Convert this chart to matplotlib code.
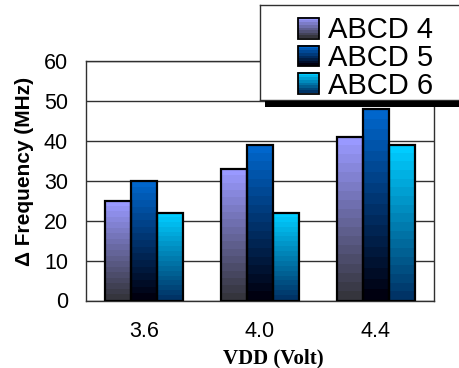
import numpy as np
import matplotlib
matplotlib.use("Agg")
import matplotlib.pyplot as plt
from matplotlib.colors import LinearSegmentedColormap
from matplotlib.patches import Rectangle

# data
voltages = ["3.6", "4.0", "4.4"]
series_names = ["ABCD 4", "ABCD 5", "ABCD 6"]
abcd4 = [25, 33, 41]
abcd5 = [30, 39, 48]
abcd6 = [22, 22, 39]

# gradient ends (bottom, top) for each series
grad_colors = [("#35353d", "#9999ff"), ("#000010", "#0066cc"), ("#003366", "#00ccff")]

W, H = 460, 368
fig = plt.figure(figsize=(W / 100, H / 100), dpi=100)
plt.rcParams["font.family"] = ["Liberation Sans", "DejaVu Sans"]


def fig_box(x0, y0, x1, y1):
    """pixel box (top-left origin) -> figure fraction [l, b, w, h]"""
    return [x0 / W, 1 - y1 / H, (x1 - x0) / W, (y1 - y0) / H]


def gradient_rect(ax, x0, x1, y0, y1, colors, steps=18, z=2):
    cmap = LinearSegmentedColormap.from_list("g", list(colors))
    g = np.linspace(0, 1, steps).reshape(-1, 1)
    ax.imshow(g, cmap=cmap, aspect="auto", origin="lower",
              extent=(x0, x1, y0, y1), interpolation="nearest", zorder=z)


ax = fig.add_axes(fig_box(86, 61, 434, 300.5))

width = 0.224
x = np.arange(len(voltages))
for i, vals in enumerate([abcd4, abcd5, abcd6]):
    for xi, v in zip(x, vals):
        left = xi + (i - 1) * width - width / 2
        gradient_rect(ax, left, left + width, 0, v, grad_colors[i])
        ax.add_patch(Rectangle((left, 0), width, v, fill=False,
                               edgecolor="black", linewidth=1.6, zorder=3))
ax.set_xlim(-0.5, 2.5)
ax.set_ylim(0, 60)

ax.set_yticks(range(0, 61, 10))
ax.set_xticks(x)
ax.set_xticklabels(voltages)
ax.tick_params(axis="both", length=0, labelsize=15.5, colors="black")
ax.tick_params(axis="y", pad=13)
ax.tick_params(axis="x", pad=15)
ax.yaxis.grid(True, color="#303030", linewidth=1.0)
ax.set_axisbelow(True)
for s in ax.spines.values():
    s.set_color("#303030")
    s.set_linewidth(1.0)

fig.text(25 / W, 1 - 171 / H, "\u0394 Frequency (MHz)", rotation=90,
         ha="center", va="center", fontsize=15, fontweight="bold")
fig.text(273.5 / W, 1 - 358 / H, "VDD (Volt)", ha="center", va="center",
         fontsize=15, fontweight="bold", family="Liberation Serif")

# legend box with drop shadow
fig.add_artist(Rectangle((265 / W, 1 - 106.5 / H), 200 / W, 6 / H,
                         transform=fig.transFigure, facecolor="black",
                         edgecolor="none"))
lax = fig.add_axes(fig_box(260, 5, 475, 100))
lax.set_xticks([])
lax.set_yticks([])
for s in lax.spines.values():
    s.set_color("#303030")
    s.set_linewidth(1.0)

baselines = [38.5, 66, 93.5]
for name, cols, base in zip(series_names, grad_colors, baselines):
    top = base - 20.5
    cmap = LinearSegmentedColormap.from_list("g", list(cols))
    g = np.linspace(0, 1, 8).reshape(-1, 1)
    # y axis runs downward here, so the light end goes to the top of the swatch
    lax.imshow(g, cmap=cmap, aspect="auto", origin="lower",
               extent=(298.5, 319, base, top), interpolation="nearest")
    lax.add_patch(Rectangle((298.5, top), 20.5, 20.5, fill=False,
                            edgecolor="black", linewidth=1.3))
    lax.text(328, base, name, fontsize=21, va="baseline", ha="left")
lax.set_xlim(260, 475)
lax.set_ylim(100, 5)

fig.savefig("out.png", dpi=100)
